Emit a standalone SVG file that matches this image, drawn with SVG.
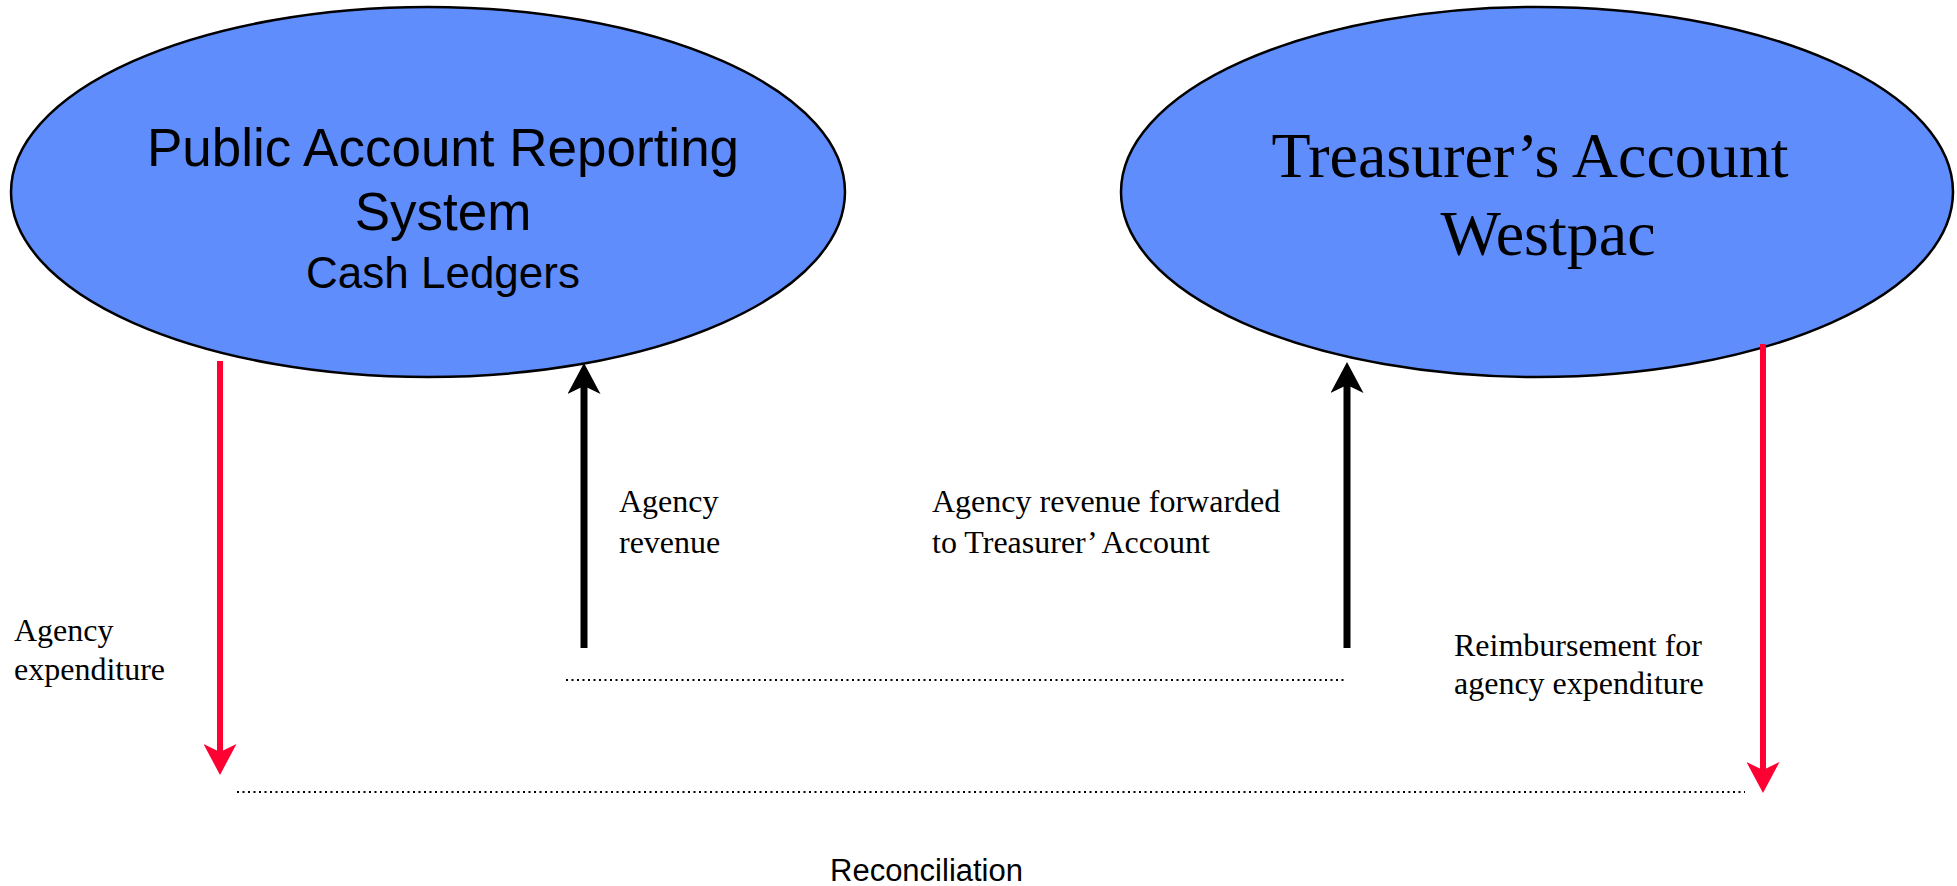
<svg xmlns="http://www.w3.org/2000/svg" width="1957" height="886" viewBox="0 0 1957 886">
  <style>
    .ell { fill: #608dfc; stroke: #000; stroke-width: 2.5; }
    .sans { font-family: "Liberation Sans", Arial, sans-serif; fill: #000; }
    .serif { font-family: "Liberation Serif", "Times New Roman", serif; fill: #000; }
    .lbl { font-family: "Liberation Serif", "Times New Roman", serif; font-size: 32px; fill: #000; }
    .red { stroke: #ff0033; stroke-width: 6; fill: none; }
    .blk { stroke: #000; stroke-width: 7; fill: none; }
    .dot { stroke: #000; stroke-width: 2; stroke-dasharray: 2 3.5; fill: none; }
  </style>
  <defs>
    <marker id="ahRed" markerUnits="userSpaceOnUse" markerWidth="31" markerHeight="33" viewBox="0 0 31 33" refX="8" refY="16.5" orient="auto">
      <path d="M0,0 L31,16.5 L0,33 L8,16.5 Z" fill="#ff0033"/>
    </marker>
    <marker id="ahBlk" markerUnits="userSpaceOnUse" markerWidth="31" markerHeight="33" viewBox="0 0 31 33" refX="8" refY="16.5" orient="auto">
      <path d="M0,0 L31,16.5 L0,33 L8,16.5 Z" fill="#000"/>
    </marker>
  </defs>

  <g id="node-pars">
    <ellipse class="ell" cx="428" cy="192" rx="417" ry="185"/>
    <text class="sans" font-size="53" text-anchor="middle" x="443" y="166">Public Account Reporting</text>
    <text class="sans" font-size="53" text-anchor="middle" x="443" y="230">System</text>
    <text class="sans" font-size="44" text-anchor="middle" x="443" y="288">Cash Ledgers</text>
  </g>

  <g id="node-treasurer">
    <ellipse class="ell" cx="1537" cy="192" rx="416" ry="185"/>
    <text class="serif" font-size="64" text-anchor="middle" x="1530" y="177">Treasurer’s Account</text>
    <text class="serif" font-size="64" text-anchor="middle" x="1548" y="255">Westpac</text>
  </g>

  <g id="connectors">
    <line class="red" x1="220" y1="361" x2="220" y2="752" marker-end="url(#ahRed)"/>
    <line class="red" x1="1763" y1="344" x2="1763" y2="770" marker-end="url(#ahRed)"/>
    <line class="blk" x1="584" y1="648" x2="584" y2="386" marker-end="url(#ahBlk)"/>
    <line class="blk" x1="1347" y1="648" x2="1347" y2="385" marker-end="url(#ahBlk)"/>
    <line class="dot" x1="566" y1="680" x2="1344" y2="680"/>
    <line class="dot" x1="237" y1="792" x2="1745" y2="792"/>
  </g>

  <g id="labels">
    <text class="lbl" x="14" y="641">Agency</text>
    <text class="lbl" x="14" y="680">expenditure</text>
    <text class="lbl" x="619" y="512">Agency</text>
    <text class="lbl" x="619" y="553">revenue</text>
    <text class="lbl" x="932" y="512">Agency revenue forwarded</text>
    <text class="lbl" x="932" y="553">to Treasurer’ Account</text>
    <text class="lbl" x="1454" y="656">Reimbursement for</text>
    <text class="lbl" x="1454" y="694">agency expenditure</text>
    <text class="sans" font-size="31" x="830" y="881">Reconciliation</text>
  </g>
</svg>
